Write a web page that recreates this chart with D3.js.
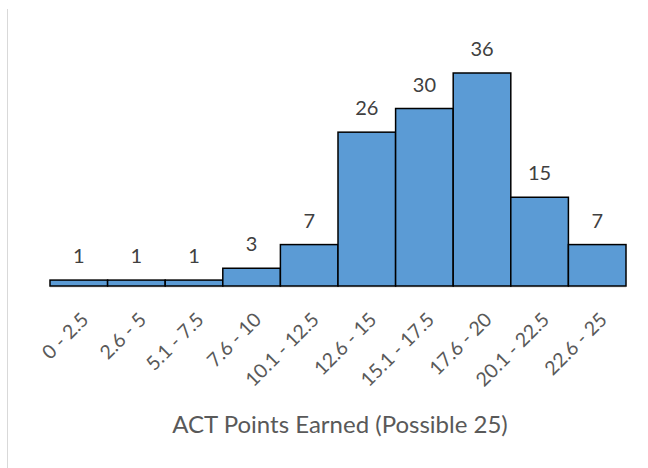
<!DOCTYPE html>
<html><head><meta charset="utf-8">
<script src="https://cdn.jsdelivr.net/npm/d3@7"></script>
<style>body{margin:0;background:#fff}svg{display:block}</style>
</head><body>
<script>
const categories = ["0 - 2.5","2.6 - 5","5.1 - 7.5","7.6 - 10","10.1 - 12.5","12.6 - 15","15.1 - 17.5","17.6 - 20","20.1 - 22.5","22.6 - 25"];
const counts = [1,1,1,3,7,26,30,36,15,7];
const xTitle = "ACT Points Earned (Possible 25)";

const W=648,H=468;
const svg=d3.select("body").append("svg").attr("width",W).attr("height",H);
const font="Lato, 'Open Sans', sans-serif";

svg.append("line").attr("x1",7.5).attr("x2",7.5).attr("y1",9).attr("y2",H).attr("stroke","#d9d9d9").attr("stroke-width",1);

const x=d3.scaleBand().domain(categories).range([50,626]).padding(0);
const y=d3.scaleLinear().domain([0,36]).range([286,73]);

svg.append("line").attr("x1",50).attr("x2",626).attr("y1",287).attr("y2",287).attr("stroke","#d9d9d9").attr("stroke-width",1);

svg.selectAll("rect.bar").data(counts).join("rect").attr("class","bar")
  .attr("x",(d,i)=>x(categories[i])).attr("width",x.bandwidth())
  .attr("y",d=>y(d)).attr("height",d=>y(0)-y(d))
  .attr("fill","#5B9BD5").attr("stroke","#000").attr("stroke-width",1.5);

svg.selectAll("text.val").data(counts).join("text").attr("class","val")
  .attr("x",(d,i)=>x(categories[i])+x.bandwidth()/2).attr("y",d=>y(d)-17)
  .attr("text-anchor","middle").attr("font-family",font).attr("font-size",20).attr("fill","#404040")
  .text(d=>d);

const ax=svg.append("g").attr("transform","translate(0,287)").call(d3.axisBottom(x).tickSize(0).tickPadding(0));
ax.select(".domain").remove();
ax.selectAll("text").attr("font-family",font).attr("font-size",19.5).attr("fill","#595959")
  .attr("text-anchor","end").attr("dy",null).attr("y",0)
  .attr("transform","translate(11,34) rotate(-45)");

svg.append("text").attr("x",340).attr("y",433).attr("text-anchor","middle")
  .attr("font-family",font).attr("font-size",24).attr("fill","#595959").text(xTitle);
</script>
</body></html>
